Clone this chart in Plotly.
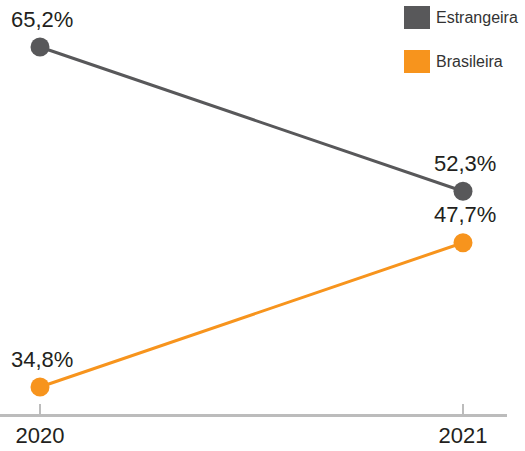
import plotly.graph_objects as go

years = [2020, 2021]
estrangeira = [65.2, 52.3]
brasileira = [34.8, 47.7]
series_names = ["Estrangeira", "Brasileira"]
colors = ["#58585a", "#f7941d"]

W, H = 525, 451
ML, MR, MT, MB = 0, 18, 0, 37
PW, PH = W - ML - MR, H - MT - MB

def fmt(v):
    return f"{v:.1f}%".replace(".", ",")

fig = go.Figure()
for name, vals, col in zip(series_names, [estrangeira, brasileira], colors):
    fig.add_trace(go.Scatter(
        x=years, y=vals, mode="lines+markers", name=name,
        line=dict(color=col, width=3),
        marker=dict(color=col, size=19),
        showlegend=False, hoverinfo="skip",
    ))
    for x, v in zip(years, vals):
        fig.add_annotation(
            x=x, y=v, text=fmt(v), showarrow=False, yshift=28, xshift=2,
            font=dict(family="Liberation Sans, Arial, sans-serif", size=22, color="#231f20"),
        )

# legend drawn as swatches + labels (pixel positions converted to paper coords)
def px(xp):
    return (xp - ML) / PW

def py(yp):
    return 1 - (yp - MT) / PH

for i, (name, col) in enumerate(zip(series_names, colors)):
    top = 6 + i * 44
    fig.add_shape(type="rect", xref="paper", yref="paper",
                  x0=px(404), x1=px(430), y0=py(top + 23), y1=py(top),
                  fillcolor=col, line=dict(width=0))
    fig.add_annotation(xref="paper", yref="paper", x=px(434), y=py(top + 11.5),
                       xanchor="left", yanchor="middle", showarrow=False, text=name,
                       font=dict(family="Liberation Sans Narrow, Liberation Sans, Arial", size=16, color="#333333"))

px_per_year = 423
x0 = 2020 - 40 / px_per_year
x1 = x0 + PW / px_per_year
px_per_unit = 340 / (65.2 - 34.8)
y1 = 65.2 + 47 / px_per_unit
y0 = y1 - PH / px_per_unit

fig.update_layout(
    width=W, height=H,
    margin=dict(l=ML, r=MR, t=MT, b=MB),
    paper_bgcolor="white", plot_bgcolor="white",
    xaxis=dict(range=[x0, x1], tickvals=years, ticktext=[str(y) for y in years],
               showgrid=False, zeroline=False, showline=True, linecolor="#bcbcbc", linewidth=3,
               ticks="inside", ticklen=10, tickwidth=2, tickcolor="#bcbcbc",
               tickfont=dict(family="Liberation Sans, Arial, sans-serif", size=22, color="#231f20")),
    yaxis=dict(range=[y0, y1], visible=False),
)

fig.write_html("out.html")
